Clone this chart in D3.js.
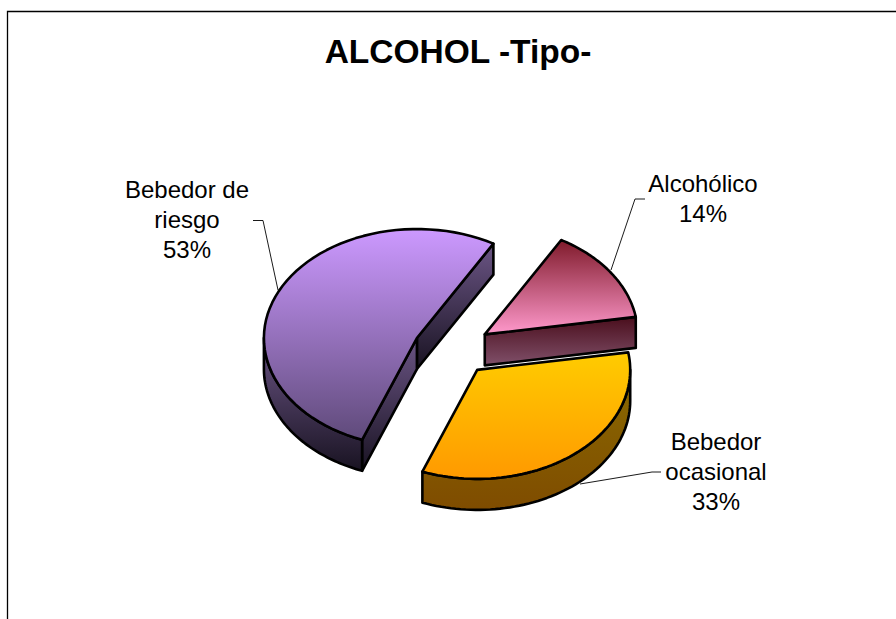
<!DOCTYPE html>
<html><head><meta charset="utf-8">
<script src="https://cdn.jsdelivr.net/npm/d3@7"></script>
<style>html,body{margin:0;padding:0;background:#fff}svg{display:block}text{font-family:"Liberation Sans",Arial,sans-serif;fill:#000}</style>
</head><body><svg id="c" width="896" height="619"></svg>
<script>
const categories=["Alcohólico","Bebedor ocasional","Bebedor de riesgo"];
const values=[14.1,33.4,52.5];
const labelLines=[["Alcohólico"],["Bebedor","ocasional"],["Bebedor de","riesgo"]];
const titleText="ALCOHOL -Tipo-";
const topColors=[["#7f1a2a","#ff99cc"],["#ffcc00","#ff9900"],["#cc99ff","#5f4a7a"]];
const sideColors=[["#4a0e1c","#80506a"],["#8a6a00","#7f4c00"],["#6b5585","#191322"]];

const W=896,H=619;
const svg=d3.select("#c").attr("viewBox",[0,0,W,H]);
const defs=svg.append("defs");
function grad(id,c){const g=defs.append("linearGradient").attr("id",id).attr("x1",0).attr("y1",0).attr("x2",0).attr("y2",1);
 g.append("stop").attr("offset",0).attr("stop-color",c[0]);g.append("stop").attr("offset",1).attr("stop-color",c[1]);}
topColors.forEach((c,i)=>grad("t"+i,c));sideColors.forEach((c,i)=>grad("s"+i,c));

svg.append("path").attr("d",`M7.5,${H}V11.5H${W}`).attr("fill","none").attr("stroke","#000").attr("stroke-width",1.3);
svg.append("text").attr("x",458).attr("y",63).attr("text-anchor","middle").attr("font-size",33.5).attr("font-weight","bold").text(titleText);

const cx=452.4,cy=349.4,rx=153,ry=109,depth=31,explodeX=0.257,explodeY=0.242;
const rad=d3.scaleLinear().domain([0,360]).range([0,2*Math.PI]);
const startDeg=30;
const pie=d3.pie().sort(null).startAngle(rad(startDeg)).endAngle(rad(startDeg+360));
const arcs=pie(values);
const pt=(c,a,r=1,dz=0)=>[c[0]+rx*r*Math.sin(a),c[1]-ry*r*Math.cos(a)+dz];
const line=d3.line();
const samples=(a0,a1)=>d3.range(0,61).map(i=>a0+(a1-a0)*i/60);
const draw=(pts,fill)=>svg.append("path").attr("d",line(pts)+"Z").attr("fill",fill).attr("stroke","#000").attr("stroke-width",2.6).attr("stroke-linejoin","round");

// back-to-front: riesgo, alcoholico, ocasional
[2,0,1].forEach(i=>{
 const d=arcs[i],mid=(d.startAngle+d.endAngle)/2;
 const c=[cx+explodeX*rx*Math.sin(mid),cy-explodeY*ry*Math.cos(mid)];
 const a0=d.startAngle,a1=d.endAngle,fs=`url(#s${i})`,ft=`url(#t${i})`;
 const A=[c[0],c[1]],Ad=[c[0],c[1]+depth];
 // cut faces visible when they look toward the viewer
 if(i===2){
  const e=pt(c,a1);draw([A,e,[e[0],e[1]+depth],Ad],fs);
  const s=pt(c,a0);
  draw([A,s,[s[0],s[1]+depth],Ad],fs);
 }
 if(i===0){const e=pt(c,a1);draw([A,e,[e[0],e[1]+depth],Ad],fs);}
 // outer wall: only the front half of the rim
 const lo=Math.max(a0,rad(90)),hi=Math.min(a1,rad(270));
 if(hi>lo){const s=samples(lo,hi);draw(s.map(a=>pt(c,a)).concat(s.slice().reverse().map(a=>pt(c,a,1,depth))),fs);}
 draw([A].concat(samples(a0,a1).map(a=>pt(c,a))),ft);
});

// leader lines + labels
const leaderPts=[[[611,270],[635,199],[645,199]],[[580,484],[652,472],[661,472]],[[278,290],[263,220.5],[253,220.5]]];
leaderPts.forEach(p=>svg.append("path").attr("d",line(p)).attr("fill","none").attr("stroke","#000").attr("stroke-width",.9));
const labelPos=[[703,192],[716,450],[187,198]];
const pct=d3.format(".0f"),total=d3.sum(values);
labelLines.forEach((ls,i)=>{
 const t=svg.append("text").attr("text-anchor","middle").attr("font-size",24);
 ls.concat([pct(values[i]/total*100)+"%"]).forEach((s,j)=>t.append("tspan").attr("x",labelPos[i][0]).attr("y",labelPos[i][1]+j*30).text(s));
});
</script></body></html>
